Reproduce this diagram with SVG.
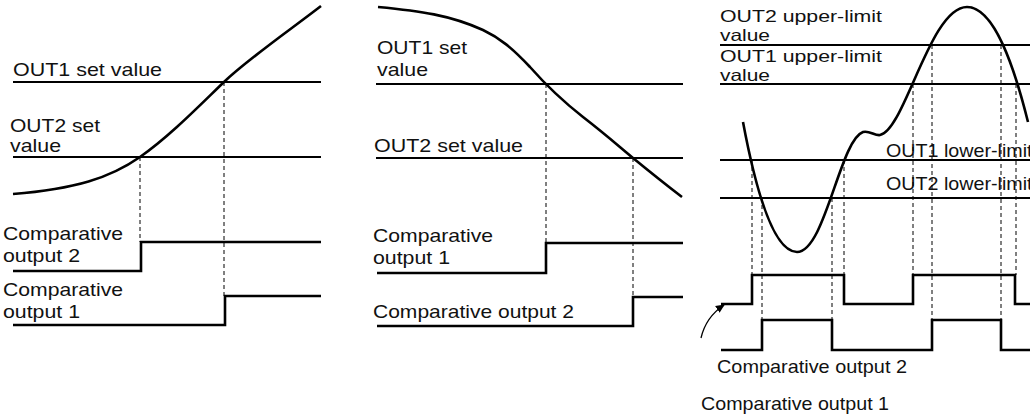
<svg xmlns="http://www.w3.org/2000/svg" width="1030" height="416" viewBox="0 0 1030 416">
<style>
text{font-family:"Liberation Sans",Arial,sans-serif;font-size:19px;fill:#111}
text.tight{font-size:16.5px}
.ref{stroke:#000;stroke-width:2;fill:none}
.curve{stroke:#000;stroke-width:2.6;fill:none;stroke-linejoin:round}
.wave{stroke:#000;stroke-width:2.6;fill:none;stroke-linejoin:miter}
.dash{stroke:#000;stroke-width:1;stroke-dasharray:4 3;fill:none}
</style>
<defs>
<marker id="ah" markerWidth="10" markerHeight="10" refX="8" refY="5" orient="auto" markerUnits="userSpaceOnUse">
<path d="M0,1 L9,5 L0,9 Z" fill="#000"/>
</marker>
</defs>
<rect width="1030" height="416" fill="#fff"/>

<g id="panel1">
<text x="13" y="76" textLength="149" lengthAdjust="spacingAndGlyphs">OUT1 set value</text>
<text x="10" y="132" textLength="90" lengthAdjust="spacingAndGlyphs">OUT2 set</text>
<text x="10" y="152" textLength="51" lengthAdjust="spacingAndGlyphs">value</text>
<text x="3" y="240" textLength="120" lengthAdjust="spacingAndGlyphs">Comparative</text>
<text x="3" y="262" textLength="77" lengthAdjust="spacingAndGlyphs">output 2</text>
<text x="3" y="296" textLength="120" lengthAdjust="spacingAndGlyphs">Comparative</text>
<text x="3" y="318" textLength="77" lengthAdjust="spacingAndGlyphs">output 1</text>
<line class="ref" x1="13" y1="82" x2="321" y2="82"/>
<line class="ref" x1="13" y1="157" x2="321" y2="157"/>
<path class="curve" d="M13,194 C75,189 110,178 140,157 S200,105 224,82 S290,30 321,6"/>
<path class="wave" d="M13,271 H141 V242 H321"/>
<path class="wave" d="M13,325 H225 V296 H321"/>
</g>

<g id="panel2">
<text x="377" y="54" textLength="90" lengthAdjust="spacingAndGlyphs">OUT1 set</text>
<text x="377" y="76" textLength="51" lengthAdjust="spacingAndGlyphs">value</text>
<text x="374" y="152" textLength="149" lengthAdjust="spacingAndGlyphs">OUT2 set value</text>
<text x="373" y="242" textLength="120" lengthAdjust="spacingAndGlyphs">Comparative</text>
<text x="373" y="264" textLength="77" lengthAdjust="spacingAndGlyphs">output 1</text>
<text x="373" y="318" textLength="201" lengthAdjust="spacingAndGlyphs">Comparative output 2</text>
<line class="ref" x1="376" y1="84" x2="683" y2="84"/>
<line class="ref" x1="376" y1="158" x2="683" y2="158"/>
<path class="curve" d="M378,7 C420,11 450,15 483,30 C500,38 512,48 530,67 C545,84 560,99 583,117 C605,134 615,143 633,158 C650,172 665,184 682,197"/>
<path class="wave" d="M377,273 H546 V243 H683"/>
<path class="wave" d="M377,326 H633 V297 H683"/>
</g>

<g id="panel3">
<text class="tight" x="720" y="22" textLength="162" lengthAdjust="spacingAndGlyphs">OUT2 upper-limit</text>
<text class="tight" x="720" y="41" textLength="50" lengthAdjust="spacingAndGlyphs">value</text>
<text class="tight" x="720" y="62" textLength="162" lengthAdjust="spacingAndGlyphs">OUT1 upper-limit</text>
<text class="tight" x="720" y="81" textLength="50" lengthAdjust="spacingAndGlyphs">value</text>
<text x="886" y="157" textLength="146.5" lengthAdjust="spacingAndGlyphs">OUT1 lower-limit</text>
<text x="886" y="190" textLength="146.5" lengthAdjust="spacingAndGlyphs">OUT2 lower-limit</text>
<text x="717" y="373" textLength="190" lengthAdjust="spacingAndGlyphs">Comparative output 2</text>
<text x="701" y="410" textLength="188" lengthAdjust="spacingAndGlyphs">Comparative output 1</text>
<line class="ref" x1="720" y1="45" x2="1030" y2="45"/>
<line class="ref" x1="720" y1="84" x2="1030" y2="84"/>
<line class="ref" x1="720" y1="160" x2="1030" y2="160"/>
<line class="ref" x1="720" y1="198" x2="1030" y2="198"/>
<path class="curve" d="M743,122 C752,170 770,252 797,252 C825,252 840,140 863,132 C869,130 875,136 880,135 C905,130 930,7 967,7 C995,7 1015,70 1028,122"/>
<path class="wave" d="M721,304 H752 V275 H844 V304 H913 V275 H1015 V304 H1030"/>
<path class="wave" d="M721,350 H762 V320 H832 V350 H932 V320 H1001 V350 H1030"/>
</g>

<g id="connectors">
<line class="dash" x1="140" y1="157" x2="140" y2="242"/>
<line class="dash" x1="224" y1="82" x2="224" y2="296"/>
<line class="dash" x1="546" y1="84" x2="546" y2="243"/>
<line class="dash" x1="633" y1="158" x2="633" y2="297"/>
<line class="dash" x1="752" y1="160" x2="752" y2="275"/>
<line class="dash" x1="762" y1="198" x2="762" y2="320"/>
<line class="dash" x1="832" y1="198" x2="832" y2="320"/>
<line class="dash" x1="844" y1="160" x2="844" y2="275"/>
<line class="dash" x1="913" y1="84" x2="913" y2="275"/>
<line class="dash" x1="932" y1="45" x2="932" y2="320"/>
<line class="dash" x1="1001" y1="45" x2="1001" y2="320"/>
<line class="dash" x1="1016" y1="84" x2="1016" y2="275"/>
<path d="M701,338 C704,325 712,313 724,305" fill="none" stroke="#000" stroke-width="1.3" marker-end="url(#ah)"/>
</g>
</svg>
